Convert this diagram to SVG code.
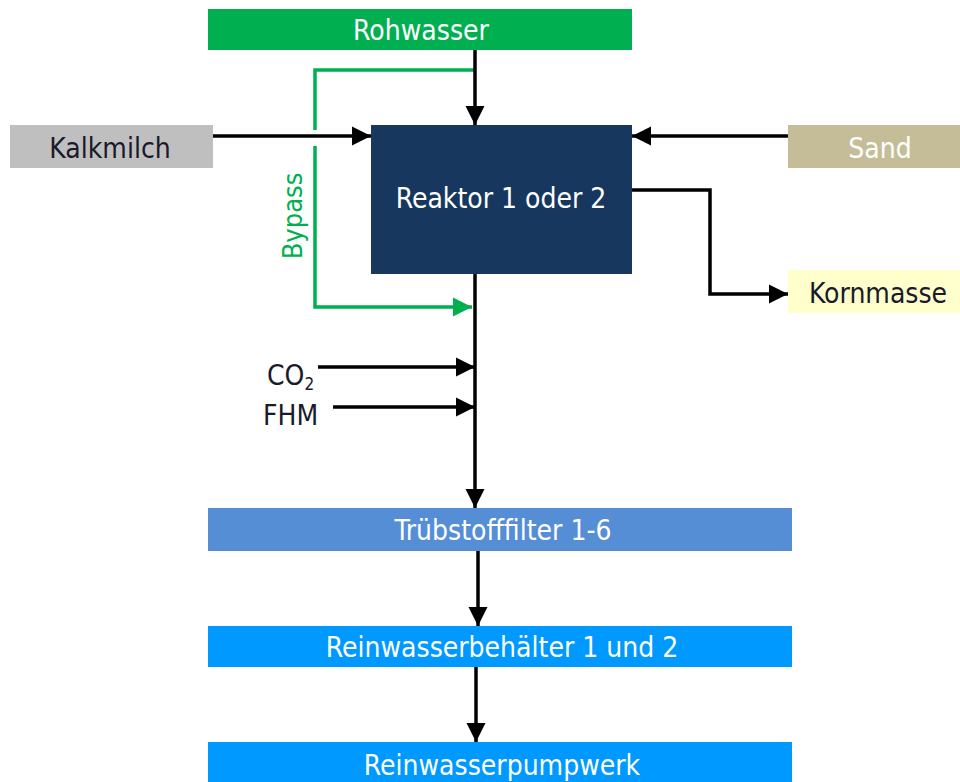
<svg xmlns="http://www.w3.org/2000/svg" width="960" height="782" viewBox="0 0 960 782">
<defs>
<marker id="ah" viewBox="0 0 10 10" refX="10" refY="5" markerWidth="5.5" markerHeight="5.5" orient="auto" markerUnits="strokeWidth">
<path d="M0,0 L10,5 L0,10 z" fill="#000"/>
</marker>
<marker id="ahg" viewBox="0 0 10 10" refX="10" refY="5" markerWidth="5.5" markerHeight="5.5" orient="auto" markerUnits="strokeWidth">
<path d="M0,0 L10,5 L0,10 z" fill="#00B050"/>
</marker>
</defs>
<style>
text{font-family:"DejaVu Sans Condensed","DejaVu Sans",sans-serif;font-size:28px;}
.w{fill:#fff;}
.d{fill:#1a1a2a;}
.c{fill:none;stroke:#000;stroke-width:3.5;marker-end:url(#ah);}
.g{fill:none;stroke:#00B050;stroke-width:3.5;}
</style>
<rect width="960" height="782" fill="#fff"/>
<g id="connectors">
<path class="g" d="M475,70 H315 V130"/>
<path class="g" d="M315,146 V307 H472" style="marker-end:url(#ahg)"/>
<path class="c" d="M475,50 V125"/>
<path class="c" d="M213,136 H371"/>
<path class="c" d="M788,136 H632"/>
<path class="c" d="M632,190 H710 V294 H788"/>
<path class="c" d="M475,274 V508"/>
<path class="c" d="M318,367 H475"/>
<path class="c" d="M333,407 H475"/>
<path class="c" d="M478,551 V626"/>
<path class="c" d="M476,667 V742"/>
<text x="302" y="216" transform="rotate(-90 302 216)" text-anchor="middle" fill="#00B050" style="font-size:27px">Bypass</text>
</g>
<g id="rohwasser"><rect x="208" y="9" width="424" height="41" fill="#00B050"/><text class="w" x="421" y="40" text-anchor="middle">Rohwasser</text></g>
<g id="kalkmilch"><rect x="10" y="125" width="203" height="43" fill="#BFBFBF"/><text class="d" x="110" y="158" text-anchor="middle">Kalkmilch</text></g>
<g id="reaktor"><rect x="371" y="125" width="261" height="149" fill="#17375E"/><text class="w" x="501" y="208" text-anchor="middle">Reaktor 1 oder 2</text></g>
<g id="sand"><rect x="788" y="125" width="172" height="43" fill="#C4BD97"/><text class="w" x="880" y="158" text-anchor="middle">Sand</text></g>
<g id="kornmasse"><rect x="788" y="270" width="172" height="43" fill="#FFFFCC"/><text class="d" x="809" y="303">Kornmasse</text></g>
<g id="co2"><text class="d" x="267" y="385">CO<tspan style="font-size:17px" dy="5">2</tspan></text></g>
<g id="fhm"><text class="d" x="263" y="425">FHM</text></g>
<g id="filter"><rect x="208" y="508" width="584" height="43" fill="#558ED5"/><text class="w" x="503" y="540" text-anchor="middle">Trübstofffilter 1-6</text></g>
<g id="behaelter"><rect x="208" y="626" width="584" height="41" fill="#0099FF"/><text class="w" x="502" y="657" text-anchor="middle">Reinwasserbehälter 1 und 2</text></g>
<g id="pumpwerk"><rect x="208" y="742" width="584" height="40" fill="#0099FF"/><text class="w" x="502" y="775" text-anchor="middle">Reinwasserpumpwerk</text></g>
</svg>
